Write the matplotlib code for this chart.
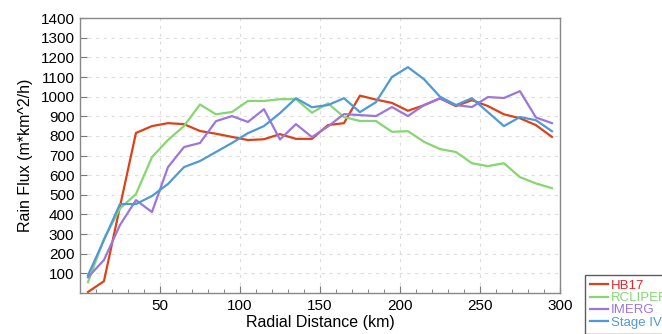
import matplotlib
matplotlib.use("Agg")
import matplotlib.pyplot as plt
import numpy as np
from matplotlib.ticker import MultipleLocator

plt.rcParams['font.family'] = ['Liberation Sans', 'DejaVu Sans']

# radial distance bins (km)
dist = np.arange(5, 300, 10)

hb17 = [5, 60, 440, 815, 850, 865, 860, 825, 811, 795, 779, 783, 809, 785, 785,
        855, 865, 1005, 985, 968, 928, 956, 991, 952, 982, 952, 910, 890, 855, 795]
rcliper = [55, 275, 430, 504, 692, 779, 850, 960, 910, 922, 978, 978, 987, 987, 918,
           966, 896, 876, 876, 821, 824, 770, 733, 718, 661, 646, 661, 590, 558, 534]
imerg = [80, 168, 346, 473, 412, 641, 743, 764, 875, 901, 871, 936, 782, 860, 794,
         848, 911, 906, 901, 947, 901, 957, 991, 957, 947, 998, 993, 1028, 894, 865]
stage4 = [90, 270, 453, 453, 494, 555, 641, 672, 718, 764, 814, 850, 916, 992, 946,
          957, 992, 921, 972, 1100, 1150, 1089, 1000, 957, 992, 921, 850, 896, 880, 824]

names = ['HB17', 'RCLIPER', 'IMERG', 'Stage IV']
series = [hb17, rcliper, imerg, stage4]
colors = ['#dc4219', '#86d672', '#9c76dc', '#4f9ad6']
text_colors = ['#e0262a', '#86d672', '#9c76dc', '#4f9ad6']

fig = plt.figure(figsize=(6.62, 3.34), dpi=100)
ax = fig.add_axes([0.1208, 0.1228, 0.725, 0.823])

lines = []
for vals, c, n in zip(series, colors, names):
    l, = ax.plot(dist, vals, color=c, lw=1.6, label=n)
    lines.append(l)

ax.set_xlim(0, 300)
ax.set_ylim(0, 1400)
ax.set_xticks(np.arange(50, 301, 50))
ax.xaxis.set_minor_locator(MultipleLocator(10))
ax.set_yticks(np.arange(100, 1401, 100))
ax.tick_params(axis='both', which='major', direction='in', length=5, color='#777777',
               labelsize=11, pad=4)
ax.tick_params(axis='x', which='minor', direction='in', length=3, color='#777777')
ax.grid(True, which='major', linestyle=(0, (3, 4)), color='#dddddd', lw=0.8)
for s in ax.spines.values():
    s.set_color('#888888')
    s.set_linewidth(1.0)

ax.set_xlabel('Radial Distance (km)', fontsize=11.5, labelpad=2)
ax.set_ylabel('Rain Flux (m*km^2/h)', fontsize=11.5, labelpad=5)

leg = fig.legend(handles=lines, loc='lower left', bbox_to_anchor=(0.883, 0.0),
                 fontsize=9.5, frameon=True, fancybox=False, edgecolor='#333333',
                 handlelength=1.4, handletextpad=0.2, labelspacing=0.0,
                 borderpad=0.4, borderaxespad=0)
leg.get_frame().set_linewidth(1.0)
for t, c in zip(leg.get_texts(), text_colors):
    t.set_color(c)

fig.savefig('out.png', dpi=100)
